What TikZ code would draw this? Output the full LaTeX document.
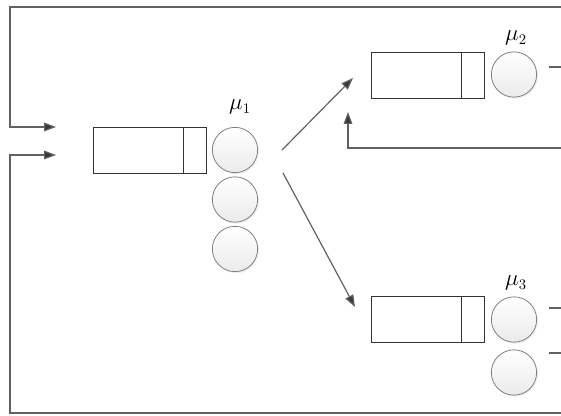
\documentclass[tikz,border=0pt]{standalone}
\usetikzlibrary{arrows.meta,shadows}
\begin{document}
\begin{tikzpicture}[x=0.75pt,y=-0.75pt,
  line/.style={draw=black!62, line width=0.9pt},
  arr/.style={line, -{Triangle[length=9pt,width=6.5pt,fill=black!78]}},
  queue/.style={rectangle, draw=black!80, line width=0.6pt, minimum width=84.75pt, minimum height=34.5pt, inner sep=0pt},
  server/.style={circle, draw=black!50, line width=0.6pt, minimum size=34pt, inner sep=0pt,
    top color=white, bottom color=black!8,
    drop shadow={opacity=0.12, shadow xshift=1pt, shadow yshift=-1.2pt}},
  lbl/.style={inner sep=0pt, font=\fontsize{16}{18}\selectfont}]
\useasboundingbox (0,0) rectangle (561,416);
% queue 1
\node[queue] (q1) at (149.5,150) {};
\draw[draw=black!80, line width=0.6pt] ([xshift=-17.25pt]q1.north east) -- ([xshift=-17.25pt]q1.south east);
\node[server] (s11) at (235,150) {};
\node[server] (s12) at (235,199.5) {};
\node[server] (s13) at (235,249) {};
\node[lbl] (m1) at (240,107) {$\mu_1$};
% queue 2
\node[queue] (q2) at (427.5,75) {};
\draw[draw=black!80, line width=0.6pt] ([xshift=-17.25pt]q2.north east) -- ([xshift=-17.25pt]q2.south east);
\node[server] (s2) at (514,74.5) {};
\node[lbl] (m2) at (516,38) {$\mu_2$};
% queue 3
\node[queue] (q3) at (427.5,319.5) {};
\draw[draw=black!80, line width=0.6pt] ([xshift=-17.25pt]q3.north east) -- ([xshift=-17.25pt]q3.south east);
\node[server] (s31) at (514,319.5) {};
\node[server] (s32) at (514,372.5) {};
\node[lbl] (m3) at (516,283) {$\mu_3$};
% coordinates
\coordinate (tr) at (561,7);
\coordinate (tl) at (10,7);
\coordinate (in1) at (56,127);
\coordinate (in2) at (56,155);
\coordinate (bl) at (10,413);
\coordinate (br) at (561,413);
\coordinate (a1) at (282,150);
\coordinate (a2) at (283,173);
\coordinate (t2) at (353,78);
\coordinate (t3) at (355,307);
\coordinate (fbr) at (561,148);
\coordinate (fbt) at (348,112);
\coordinate (o2a) at (549,67);  \coordinate (o2b) at (561,67);
\coordinate (o3a) at (549,308); \coordinate (o3b) at (561,308);
\coordinate (o4a) at (549,353); \coordinate (o4b) at (561,353);
% connectors
\draw[arr] (tr) -- (tl) |- (in1);
\draw[arr] (br) -- (bl) |- (in2);
\draw[arr] (a1) -- (t2);
\draw[arr] (a2) -- (t3);
\draw[arr] (fbr) -| (fbt);
\draw[line] (o2a) -- (o2b);
\draw[line] (o3a) -- (o3b);
\draw[line] (o4a) -- (o4b);
\end{tikzpicture}
\end{document}
